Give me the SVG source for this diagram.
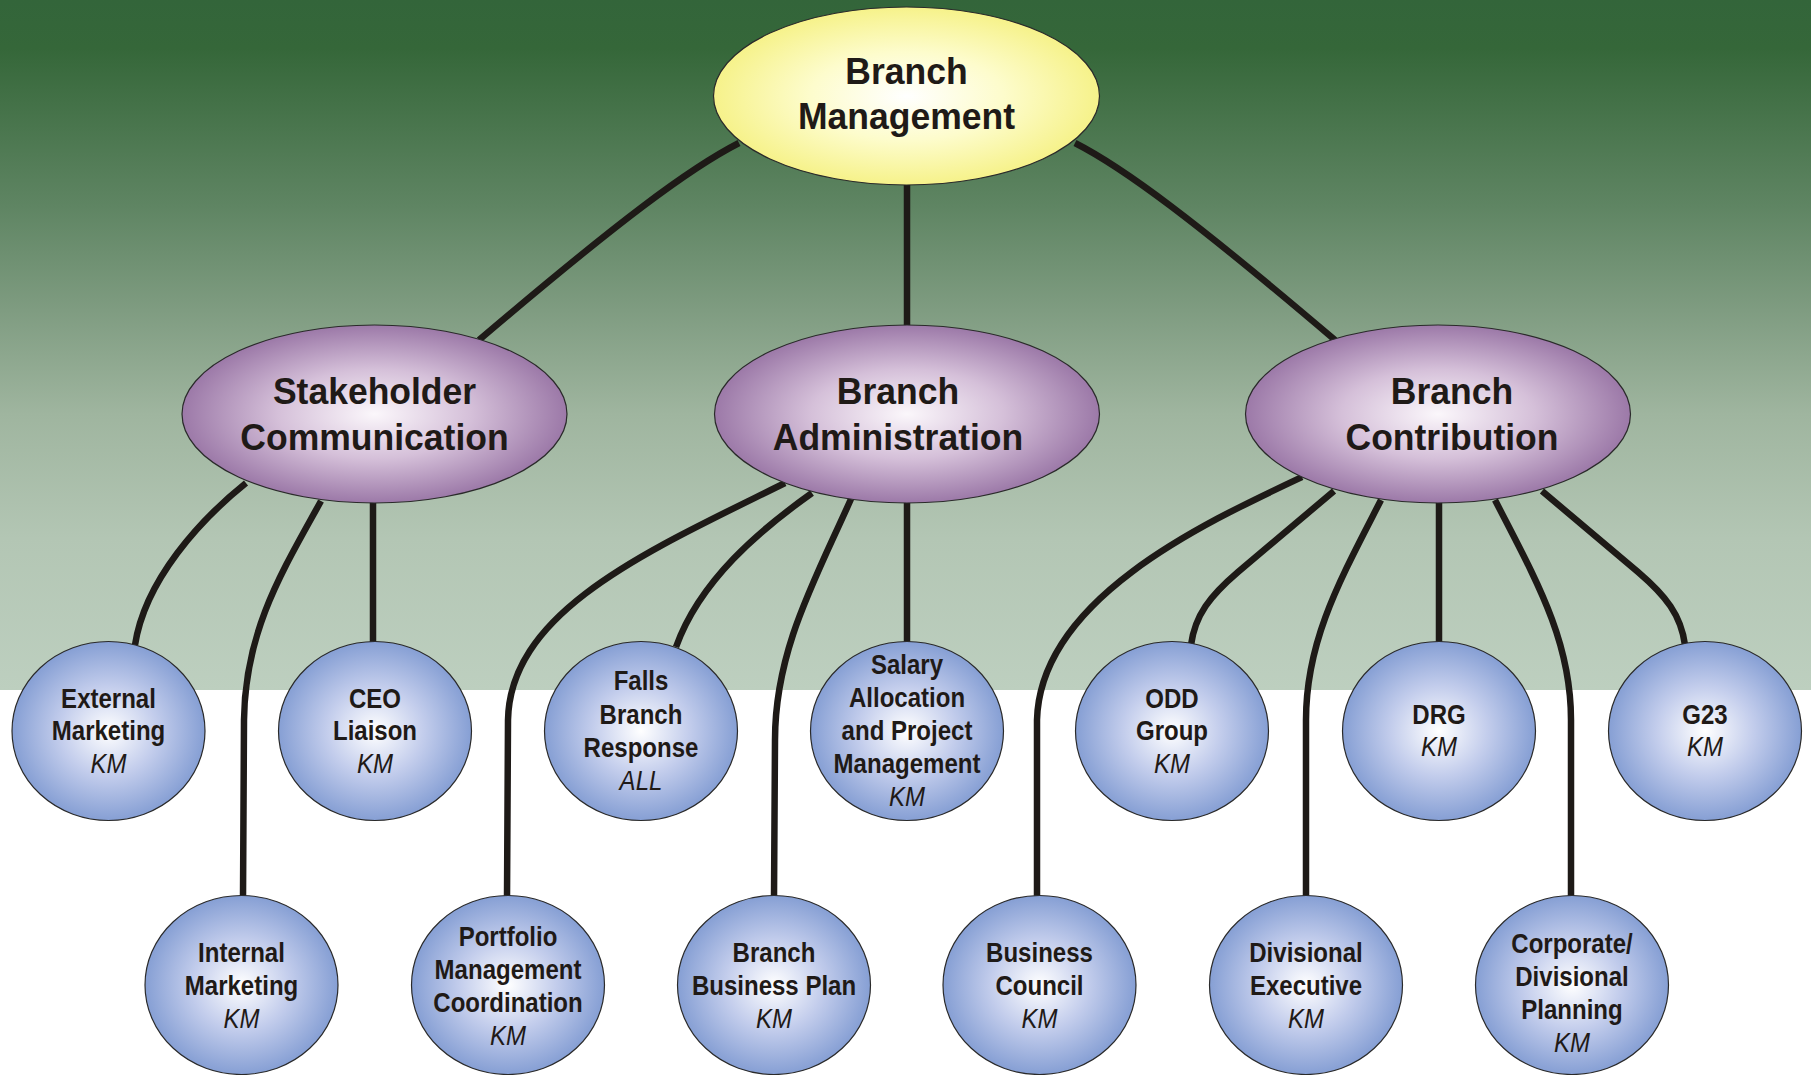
<svg xmlns="http://www.w3.org/2000/svg" width="1811" height="1075" viewBox="0 0 1811 1075">
<defs>
<linearGradient id="bg" x1="0" y1="0" x2="0" y2="1">
<stop offset="0" stop-color="#33653a"/>
<stop offset="0.07" stop-color="#356739"/>
<stop offset="0.3" stop-color="#5f8563"/>
<stop offset="0.45" stop-color="#7f9c81"/>
<stop offset="0.6" stop-color="#9fb59f"/>
<stop offset="0.78" stop-color="#b3c6b4"/>
<stop offset="1" stop-color="#bdcfbf"/>
</linearGradient>
<radialGradient id="gTop" cx="0.5" cy="0.5" r="0.5">
<stop offset="0" stop-color="#ffffff"/>
<stop offset="0.5" stop-color="#fdfccc"/>
<stop offset="1" stop-color="#f6f28a"/>
</radialGradient>
<radialGradient id="gMid" cx="0.5" cy="0.5" r="0.5">
<stop offset="0" stop-color="#fbf7fb"/>
<stop offset="0.5" stop-color="#d5c0d9"/>
<stop offset="1" stop-color="#9c79a8"/>
</radialGradient>
<radialGradient id="gLeaf" cx="0.5" cy="0.5" r="0.5">
<stop offset="0" stop-color="#ffffff"/>
<stop offset="0.5" stop-color="#c3cdec"/>
<stop offset="1" stop-color="#869fd4"/>
</radialGradient>
</defs>
<style>
.top{fill:url(#gTop);stroke:#2a2a2a;stroke-width:1.2}
.mid{fill:url(#gMid);stroke:#2a2a2a;stroke-width:1.2}
.leaf{fill:url(#gLeaf);stroke:#2a2a2a;stroke-width:1.2}
.conn{fill:none;stroke:#1e1a17;stroke-width:6.5;stroke-linecap:butt}
text{font-family:"Liberation Sans",Arial,sans-serif;fill:#1f1a17;text-anchor:middle}
.t1{font-size:37px;font-weight:bold}
.t2{font-size:27px;font-weight:bold}
.k{font-size:27px;font-style:italic;font-weight:normal}
</style>
<rect x="0" y="0" width="1811" height="1075" fill="#ffffff"/>
<rect x="0" y="0" width="1811" height="690" fill="url(#bg)"/>
<g id="connectors">
<path class="conn" d="M739,143 C690,168 620,220 479,340"/>
<path class="conn" d="M907,185 L907,327"/>
<path class="conn" d="M1075,143 C1124,168 1194,220 1335,340"/>
<path class="conn" d="M246,483 C200,520 145,580 135,645"/>
<path class="conn" d="M321,501 C283,570 245,630 244,720 L243,898"/>
<path class="conn" d="M373,502 L373,644"/>
<path class="conn" d="M785,483 C650,550 510,610 508,720 L507,898"/>
<path class="conn" d="M812,493 C760,530 700,580 676,647"/>
<path class="conn" d="M851,499 C815,580 775,650 775,740 L774,898"/>
<path class="conn" d="M907,502 L907,644"/>
<path class="conn" d="M1302,477 C1200,525 1040,600 1037,720 L1037,898"/>
<path class="conn" d="M1334,491 L1238,572 C1210,596 1195,615 1191,645"/>
<path class="conn" d="M1381,500 C1340,580 1306,640 1306,720 L1306,898"/>
<path class="conn" d="M1439,502 L1439,644"/>
<path class="conn" d="M1495,500 C1536,580 1571,640 1571,720 L1571,898"/>
<path class="conn" d="M1542,491 L1638,572 C1666,596 1681,615 1685,645"/>
</g>
<g id="n-branch-management">
<ellipse class="top" cx="906.5" cy="96" rx="193" ry="89"/>
<g transform="translate(906.5 0) scale(0.96 1)">
<text class="t1" x="0" y="84">Branch</text>
<text class="t1" x="0" y="129">Management</text>
</g>
</g>
<g id="n-stakeholder-communication">
<ellipse class="mid" cx="374.5" cy="414" rx="192.5" ry="89"/>
<g transform="translate(374.5 0) scale(0.96 1)">
<text class="t1" x="0" y="404">Stakeholder</text>
<text class="t1" x="0" y="450">Communication</text>
</g>
</g>
<g id="n-branch-administration">
<ellipse class="mid" cx="907" cy="414" rx="192.5" ry="89"/>
<g transform="translate(898 0) scale(0.96 1)">
<text class="t1" x="0" y="404">Branch</text>
<text class="t1" x="0" y="450">Administration</text>
</g>
</g>
<g id="n-branch-contribution">
<ellipse class="mid" cx="1438" cy="414" rx="192.5" ry="89"/>
<g transform="translate(1452 0) scale(0.96 1)">
<text class="t1" x="0" y="404">Branch</text>
<text class="t1" x="0" y="450">Contribution</text>
</g>
</g>
<g id="n-external-marketing">
<ellipse class="leaf" cx="108.5" cy="731" rx="96.5" ry="89.5"/>
<g transform="translate(108.5 0) scale(0.89 1)">
<text class="t2" x="0" y="708">External</text>
<text class="t2" x="0" y="740.5">Marketing</text>
<text class="k" x="0" y="773">KM</text>
</g>
</g>
<g id="n-ceo-liaison">
<ellipse class="leaf" cx="375" cy="731" rx="96.5" ry="89.5"/>
<g transform="translate(375 0) scale(0.89 1)">
<text class="t2" x="0" y="708">CEO</text>
<text class="t2" x="0" y="740.5">Liaison</text>
<text class="k" x="0" y="773">KM</text>
</g>
</g>
<g id="n-falls-branch-response">
<ellipse class="leaf" cx="641" cy="731" rx="96.5" ry="89.5"/>
<g transform="translate(641 0) scale(0.89 1)">
<text class="t2" x="0" y="690.5">Falls</text>
<text class="t2" x="0" y="724">Branch</text>
<text class="t2" x="0" y="757">Response</text>
<text class="k" x="0" y="790">ALL</text>
</g>
</g>
<g id="n-salary-allocation">
<ellipse class="leaf" cx="907" cy="731" rx="96.5" ry="89.5"/>
<g transform="translate(907 0) scale(0.89 1)">
<text class="t2" x="0" y="674">Salary</text>
<text class="t2" x="0" y="707">Allocation</text>
<text class="t2" x="0" y="740">and Project</text>
<text class="t2" x="0" y="773">Management</text>
<text class="k" x="0" y="806">KM</text>
</g>
</g>
<g id="n-odd-group">
<ellipse class="leaf" cx="1172" cy="731" rx="96.5" ry="89.5"/>
<g transform="translate(1172 0) scale(0.89 1)">
<text class="t2" x="0" y="708">ODD</text>
<text class="t2" x="0" y="740.5">Group</text>
<text class="k" x="0" y="773">KM</text>
</g>
</g>
<g id="n-drg">
<ellipse class="leaf" cx="1439" cy="731" rx="96.5" ry="89.5"/>
<g transform="translate(1439 0) scale(0.89 1)">
<text class="t2" x="0" y="724">DRG</text>
<text class="k" x="0" y="756">KM</text>
</g>
</g>
<g id="n-g23">
<ellipse class="leaf" cx="1705" cy="731" rx="96.5" ry="89.5"/>
<g transform="translate(1705 0) scale(0.89 1)">
<text class="t2" x="0" y="724">G23</text>
<text class="k" x="0" y="756">KM</text>
</g>
</g>
<g id="n-internal-marketing">
<ellipse class="leaf" cx="241.5" cy="985" rx="96.5" ry="89.5"/>
<g transform="translate(241.5 0) scale(0.89 1)">
<text class="t2" x="0" y="962">Internal</text>
<text class="t2" x="0" y="995">Marketing</text>
<text class="k" x="0" y="1028">KM</text>
</g>
</g>
<g id="n-portfolio-management">
<ellipse class="leaf" cx="508" cy="985" rx="96.5" ry="89.5"/>
<g transform="translate(508 0) scale(0.89 1)">
<text class="t2" x="0" y="946">Portfolio</text>
<text class="t2" x="0" y="979">Management</text>
<text class="t2" x="0" y="1012">Coordination</text>
<text class="k" x="0" y="1045">KM</text>
</g>
</g>
<g id="n-branch-business-plan">
<ellipse class="leaf" cx="774" cy="985" rx="96.5" ry="89.5"/>
<g transform="translate(774 0) scale(0.89 1)">
<text class="t2" x="0" y="962">Branch</text>
<text class="t2" x="0" y="995">Business Plan</text>
<text class="k" x="0" y="1028">KM</text>
</g>
</g>
<g id="n-business-council">
<ellipse class="leaf" cx="1039.5" cy="985" rx="96.5" ry="89.5"/>
<g transform="translate(1039.5 0) scale(0.89 1)">
<text class="t2" x="0" y="962">Business</text>
<text class="t2" x="0" y="995">Council</text>
<text class="k" x="0" y="1028">KM</text>
</g>
</g>
<g id="n-divisional-executive">
<ellipse class="leaf" cx="1306" cy="985" rx="96.5" ry="89.5"/>
<g transform="translate(1306 0) scale(0.89 1)">
<text class="t2" x="0" y="962">Divisional</text>
<text class="t2" x="0" y="995">Executive</text>
<text class="k" x="0" y="1028">KM</text>
</g>
</g>
<g id="n-corporate-divisional-planning">
<ellipse class="leaf" cx="1572" cy="985" rx="96.5" ry="89.5"/>
<g transform="translate(1572 0) scale(0.89 1)">
<text class="t2" x="0" y="953">Corporate/</text>
<text class="t2" x="0" y="986">Divisional</text>
<text class="t2" x="0" y="1019">Planning</text>
<text class="k" x="0" y="1052">KM</text>
</g>
</g>
</svg>
